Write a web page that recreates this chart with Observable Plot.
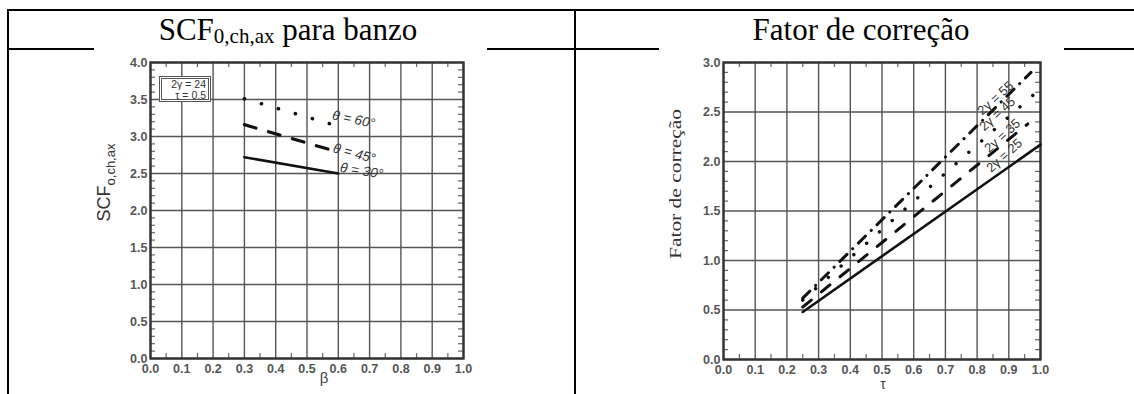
<!DOCTYPE html>
<html><head><meta charset="utf-8">
<script src="https://cdn.jsdelivr.net/npm/d3@7"></script>
<script src="https://cdn.jsdelivr.net/npm/@observablehq/plot@0.6"></script>
<style>
html,body{margin:0;padding:0;background:#fff}
body{width:1134px;height:394px;overflow:hidden;position:relative;font-family:"Liberation Serif","Times New Roman",serif}
.ln{position:absolute;background:#000}
.title{position:absolute;top:13px;font-size:31px;line-height:34px;white-space:nowrap;transform:translateX(-50%);color:#000}
.title sub{font-size:21px;vertical-align:-3px}
.chart{position:absolute;top:50px}
.legend{position:absolute;left:159px;top:76px;width:44px;height:20px;border:3px double #555;background:#fff;
  font-family:"Liberation Sans",Arial,sans-serif;font-size:10.5px;line-height:11px;color:#333;text-align:right;padding:0 2px 0 0;box-sizing:content-box}
</style></head><body>
<div class="ln" style="left:7px;top:9px;width:1127px;height:2px"></div>
<div class="ln" style="left:7px;top:9px;width:2px;height:385px"></div>
<div class="ln" style="left:574px;top:9px;width:2px;height:385px"></div>
<div class="ln" style="left:9px;top:48px;width:85px;height:2px"></div>
<div class="ln" style="left:487px;top:48px;width:87px;height:2px"></div>
<div class="ln" style="left:576px;top:48px;width:83px;height:2px"></div>
<div class="ln" style="left:1064px;top:48px;width:70px;height:2px"></div>
<div class="title" style="left:288px">SCF<sub>0,ch,ax</sub> para banzo</div>
<div class="title" style="left:861px">Fator de correção</div>
<div id="left" class="chart" style="left:90px"></div>
<div id="right" class="chart" style="left:650px"></div>
<div class="legend">2γ = 24<br>τ = 0.5</div>
<script>
// ---------- Left chart data: SCF0,ch,ax vs β (2γ = 24, τ = 0.5) ----------
const theta30Beta = [0.30, 0.60];
const theta30Scf  = [2.72, 2.50];
const theta45Beta = [0.30, 0.575];
const theta45Scf  = [3.16, 2.82];
const theta60Beta = [0.30, 0.575];
const theta60Scf  = [3.51, 3.17];
const thetaLabels = ["θ = 30°", "θ = 45°", "θ = 60°"];

const betaTicks  = [0, 0.1, 0.2, 0.3, 0.4, 0.5, 0.6, 0.7, 0.8, 0.9, 1.0];
const scfTicks   = [0, 0.5, 1.0, 1.5, 2.0, 2.5, 3.0, 3.5, 4.0];

// ---------- Right chart data: correction factor vs τ ----------
const tau25 = [0.25, 1.00], fc25 = [0.48, 2.17];
const tau35 = [0.25, 0.96], fc35 = [0.53, 2.38];
const tau45 = [0.25, 0.98], fc45 = [0.60, 2.68];
const tau55 = [0.25, 0.97], fc55 = [0.62, 2.90];
const gammaLabels = ["2γ = 25", "2γ = 35", "2γ = 45", "2γ = 55"];
const gammaLabelTau = [0.886, 0.880, 0.864, 0.858];
const gammaLabelFc  = [2.06, 2.26, 2.48, 2.64];

const tauTicks = [0, 0.1, 0.2, 0.3, 0.4, 0.5, 0.6, 0.7, 0.8, 0.9, 1.0];
const fcTicks  = [0, 0.5, 1.0, 1.5, 2.0, 2.5, 3.0];

const sans = "Liberation Sans, Arial, Helvetica, sans-serif";
const serif = "Liberation Serif, Times New Roman, serif";
const zip = (xs, ys, s) => xs.map((x, i) => ({x, y: ys[i], s}));
const range = (a, b, step) => d3.range(Math.round(a / step), Math.round(b / step) + 1).map(i => +(i * step).toFixed(4));

function frameMarks(xDom, yDom, xMaj, yMaj, W, H, m) {
  const pw = W - m.l - m.r, ph = H - m.t - m.b;
  const xMinor = range(xDom[0], xDom[1], 0.05).filter(v => !xMaj.some(t => Math.abs(t - v) < 1e-6));
  const yMinor = range(yDom[0], yDom[1], 0.1).filter(v => !yMaj.some(t => Math.abs(t - v) < 1e-6));
  const lx = 5 * (xDom[1] - xDom[0]) / pw, ly = 5 * (yDom[1] - yDom[0]) / ph;
  return [
    Plot.gridX(xMaj, {stroke: "#555", strokeOpacity: 1, strokeWidth: 1.4}),
    Plot.gridY(yMaj, {stroke: "#555", strokeOpacity: 1, strokeWidth: 1.4}),
    Plot.ruleX(xMinor, {y1: yDom[0], y2: yDom[0] + ly, stroke: "#666", strokeWidth: 1.2}),
    Plot.ruleX(xMinor, {y1: yDom[1] - ly, y2: yDom[1], stroke: "#666", strokeWidth: 1.2}),
    Plot.ruleY(yMinor, {x1: xDom[0], x2: xDom[0] + lx, stroke: "#666", strokeWidth: 1.2}),
    Plot.ruleY(yMinor, {x1: xDom[1] - lx, x2: xDom[1], stroke: "#666", strokeWidth: 1.2}),
    Plot.frame({stroke: "#333", strokeWidth: 2.4}),
    Plot.axisX(xMaj, {tickSize: 0, tickPadding: 6, tickFormat: d3.format(".1f"), label: null, fontSize: 12.5, fill: "#555", fontWeight: "bold", fontFamily: sans}),
    Plot.axisY(yMaj, {tickSize: 0, tickPadding: 3, tickFormat: d3.format(".1f"), label: null, fontSize: 12.5, fill: "#555", fontWeight: "bold", fontFamily: sans})
  ];
}

// ----- Left -----
{
  const W = 390, H = 344, m = {l: 60, r: 17, t: 12, b: 36};
  const s30 = zip(theta30Beta, theta30Scf, thetaLabels[0]);
  const s45 = zip(theta45Beta, theta45Scf, thetaLabels[1]);
  const s60 = zip(theta60Beta, theta60Scf, thetaLabels[2]);
  const ends = [
    {...s30[s30.length - 1], dx: 2, dy: -6, r: 9},
    {...s45[s45.length - 1], dx: 3, dy: -2, r: 15},
    {...s60[s60.length - 1], dx: 2, dy: -9, r: 12}
  ];
  const p = Plot.plot({
    width: W, height: H, marginLeft: m.l, marginRight: m.r, marginTop: m.t, marginBottom: m.b,
    x: {domain: [0, 1], axis: null}, y: {domain: [0, 4], axis: null},
    style: {fontFamily: sans, background: "transparent"},
    marks: [
      ...frameMarks([0, 1], [0, 4], betaTicks, scfTicks, W, H, m),
      Plot.line(s30, {x: "x", y: "y", stroke: "#111", strokeWidth: 2.6}),
      Plot.line(s45, {x: "x", y: "y", stroke: "#111", strokeWidth: 3.2, strokeDasharray: "12 13"}),
      Plot.line(s60, {x: "x", y: "y", stroke: "#111", strokeWidth: 3.6, strokeLinecap: "round", strokeDasharray: "0.1 17.6"}),
      ...ends.map(e => Plot.text([e], {x: "x", y: "y", text: "s", dx: e.dx, dy: e.dy, rotate: e.r, textAnchor: "start",
        fontSize: 13.5, fontStyle: "italic", fill: "#333", fontFamily: sans})),
      Plot.text(["SCF"], {frameAnchor: "left", textAnchor: "middle", dx: -46, dy: -28, rotate: -90, fontSize: 18,
        fill: "#333", fontFamily: sans, className: "ylabL"}),
      Plot.text(["β"], {frameAnchor: "bottom", dx: 17, dy: 24, fontSize: 15, fill: "#444", fontFamily: sans})
    ]
  });
  const t = p.querySelector(".ylabL text");
  if (t) {
    t.textContent = "";
    const a = document.createElementNS("http://www.w3.org/2000/svg", "tspan"); a.textContent = "SCF";
    const b = document.createElementNS("http://www.w3.org/2000/svg", "tspan"); b.textContent = "o,ch,ax";
    b.setAttribute("font-size", "13"); b.setAttribute("dy", "5");
    t.appendChild(a); t.appendChild(b);
  }
  document.getElementById("left").appendChild(p);
}

// ----- Right -----
{
  const W = 400, H = 344, m = {l: 73, r: 10, t: 12, b: 35};
  const s25 = zip(tau25, fc25, gammaLabels[0]);
  const s35 = zip(tau35, fc35, gammaLabels[1]);
  const s45 = zip(tau45, fc45, gammaLabels[2]);
  const s55 = zip(tau55, fc55, gammaLabels[3]);
  const labs = gammaLabels.map((s, i) => ({s, x: gammaLabelTau[i], y: gammaLabelFc[i]}));
  const p = Plot.plot({
    width: W, height: H, marginLeft: m.l, marginRight: m.r, marginTop: m.t, marginBottom: m.b,
    x: {domain: [0, 1], axis: null}, y: {domain: [0, 3], axis: null},
    style: {fontFamily: sans, background: "transparent"},
    marks: [
      ...frameMarks([0, 1], [0, 3], tauTicks, fcTicks, W, H, m),
      Plot.line(s25, {x: "x", y: "y", stroke: "#111", strokeWidth: 2.6}),
      Plot.line(s35, {x: "x", y: "y", stroke: "#111", strokeWidth: 3, strokeDasharray: "11 13"}),
      Plot.line(s45, {x: "x", y: "y", stroke: "#111", strokeWidth: 3.4, strokeLinecap: "round", strokeDasharray: "0.1 17"}),
      Plot.line(s55, {x: "x", y: "y", stroke: "#111", strokeWidth: 3, strokeDasharray: "10 8 0.1 8"}),
      Plot.text(labs, {x: "x", y: "y", text: "s", rotate: -42, fontSize: 13, fill: "#333", fontFamily: sans}),
      Plot.text(["Fator de correção"], {frameAnchor: "left", textAnchor: "middle", dx: -48, dy: -27, rotate: -90, fontSize: 17,
        fill: "#333", fontFamily: serif, className: "ylabR"}),
      Plot.text(["τ"], {frameAnchor: "bottom", dx: 1, dy: 29, fontSize: 14, fill: "#444", fontFamily: sans})
    ]
  });
  const t = p.querySelector(".ylabR text");
  if (t) { t.setAttribute("textLength", "150"); t.setAttribute("lengthAdjust", "spacingAndGlyphs"); }
  document.getElementById("right").appendChild(p);
}
</script>
</body></html>
